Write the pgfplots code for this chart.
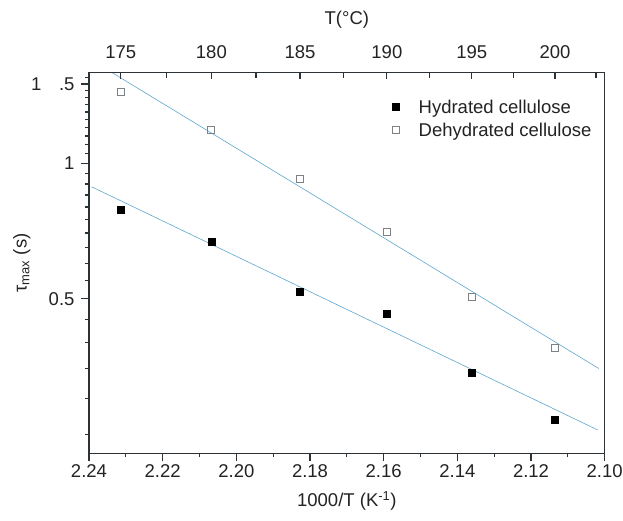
\documentclass[border=0pt]{standalone}
\usepackage{fontspec}
\setmainfont{Liberation Sans}
\usepackage{pgfplots}
\pgfplotsset{compat=1.18}

\definecolor{fitblue}{RGB}{95,165,205}
\definecolor{framec}{RGB}{45,50,55}
\definecolor{opengray}{RGB}{125,130,135}
\definecolor{txt}{RGB}{35,35,35}

\pgfplotsset{
  base/.style={
    width=515.7pt, height=380.6pt, scale only axis,
    xmin=2.10, xmax=2.24, x dir=reverse,
    axis line style={framec, line width=1.5pt},
    every tick/.style={framec, line width=1.2pt},
    major tick length=8pt, minor tick length=4pt,
    tick label style={font=\fontsize{18.5}{22}\selectfont, text=txt},
    label style={font=\fontsize{18.5}{22}\selectfont, text=txt},
    /pgf/number format/assume math mode=true,
  },
}

\begin{document}
\begin{tikzpicture}
\begin{axis}[
  base,
  ymode=log, ymin=0.2268, ymax=1.590,
  ytick={0.5,1,1.5},
  yticklabels={0.5,1,{1\hspace{0.95em}.5}},
  yticklabel style={xshift=-3pt},
  minor ytick={0.25,0.30,0.35,0.40,0.45,0.55,0.60,0.65,0.70,0.75,0.80,0.85,0.90,0.95,1.05,1.10,1.15,1.20,1.25,1.30,1.35,1.40,1.45,1.55},
  xtick={2.10,2.12,2.14,2.16,2.18,2.20,2.22,2.24},
  minor xtick={2.11,2.13,2.15,2.17,2.19,2.21,2.23},
  xticklabel style={/pgf/number format/.cd, fixed, fixed zerofill, precision=2},
  tick align=outside,
  xtick pos=left, ytick pos=left,
  xlabel={1000/T (K\textsuperscript{-1})},
  xlabel style={at={(axis description cs:0.5,-0.125)}, anchor=center},
  ylabel={τ\textsubscript{max} (s)},
  ylabel style={at={(axis description cs:-0.130,0.50)}, anchor=center},
  legend style={draw=none, fill=none, at={(axis description cs:0.573,0.940)},
    anchor=north west, font=\fontsize{18.5}{22}\selectfont, text=txt,
    row sep=4pt},
  legend cell align=left,
  legend image code/.code={\draw[#1] plot coordinates {(8pt,0pt)}; \path (0pt,0pt) (28.6pt,0pt);},
]
\coordinate (bl) at (axis description cs:0,0);
% fitted lines
\addplot[fitblue, line width=0.6pt, forget plot] coordinates {(2.2393,0.887) (2.1019,0.2556)};
\addplot[fitblue, line width=0.6pt, forget plot] coordinates {(2.2337,1.590) (2.1016,0.350)};
% hydrated
\addplot[only marks, mark=square*, mark size=3.5pt, mark options={fill=black, draw=black}]
  coordinates {
    (2.231396,0.788) (2.206775,0.668) (2.182691,0.518)
    (2.159128,0.464) (2.136067,0.343) (2.113495,0.269)
  };
\addlegendentry{Hydrated cellulose}
% dehydrated
\addplot[only marks, mark=square, mark size=3.4pt, mark options={draw=opengray, line width=1pt}]
  coordinates {
    (2.231396,1.438) (2.206775,1.186) (2.182691,0.923)
    (2.159128,0.703) (2.136067,0.505) (2.113495,0.389)
  };
\addlegendentry{Dehydrated cellulose}
\end{axis}

\begin{axis}[
  base,
  axis x line*=top, axis y line=none,
  ymin=0, ymax=1,
  tick align=inside,
  xtick={2.231396,2.206775,2.182691,2.159128,2.136067,2.113495},
  xticklabels={175,180,185,190,195,200},
  xticklabel style={yshift=10pt},
  minor xtick={2.219018,2.194667,2.170845,2.147536,2.124721,2.102386},
  major tick length=6pt, minor tick length=5pt,
  xlabel={T(°C)},
  xlabel style={at={(axis description cs:0.5,1.140)}, anchor=center},
]
\end{axis}
\pgfresetboundingbox
\path (bl) ++(-89pt,-66.7pt) rectangle ++(623pt,520pt);
\end{tikzpicture}
\end{document}
